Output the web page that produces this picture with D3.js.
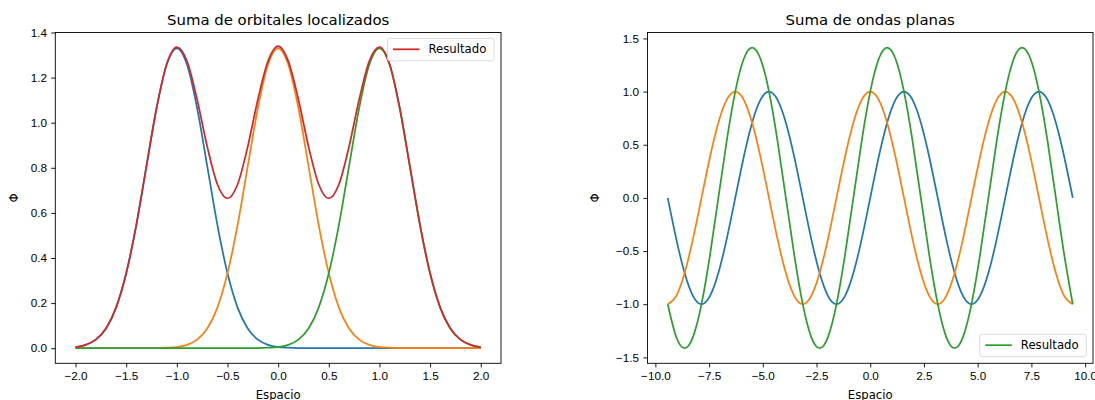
<!DOCTYPE html>
<html>
<head>
<meta charset="utf-8">
<script src="https://cdn.jsdelivr.net/npm/d3@7"></script>
<style>
  body { margin: 0; background: #fff; }
  svg { display: block; font-family: "DejaVu Sans", sans-serif; }
  .tick text { font-size: 11.7px; fill: #000; }
</style>
</head>
<body>
<svg id="chart" width="1095" height="400"></svg>
<script>
// Left panel: localized orbitals (sampled every 0.1)
const xLoc = [-2.0, -1.9, -1.8, -1.7, -1.6, -1.5, -1.4, -1.3, -1.2, -1.1, -1.0, -0.9, -0.8, -0.7, -0.6,
  -0.5, -0.4, -0.3, -0.2, -0.1, 0.0, 0.1, 0.2, 0.3, 0.4, 0.5, 0.6, 0.7, 0.8, 0.9, 1.0, 1.1, 1.2, 1.3,
  1.4, 1.5, 1.6, 1.7, 1.8, 1.9, 2.0];
const orbA = [0.005, 0.015, 0.038, 0.087, 0.180, 0.332, 0.547, 0.807, 1.065, 1.258, 1.330, 1.258, 1.065,
  0.807, 0.547, 0.332, 0.180, 0.087, 0.038, 0.015, 0.005, 0.002, 0.0004, 0, 0, 0, 0, 0, 0, 0, 0, 0, 0,
  0, 0, 0, 0, 0, 0, 0, 0];
const orbB = [0, 0, 0, 0, 0, 0, 0, 0.0001, 0.0004, 0.002, 0.005, 0.015, 0.038, 0.087, 0.180, 0.332, 0.547,
  0.807, 1.065, 1.258, 1.330, 1.258, 1.065, 0.807, 0.547, 0.332, 0.180, 0.087, 0.038, 0.015, 0.005,
  0.002, 0.0004, 0.0001, 0, 0, 0, 0, 0, 0, 0];
const orbC = [0, 0, 0, 0, 0, 0, 0, 0, 0, 0, 0, 0, 0, 0, 0, 0, 0, 0, 0.0004, 0.002, 0.005, 0.015, 0.038,
  0.087, 0.180, 0.332, 0.547, 0.807, 1.065, 1.258, 1.330, 1.258, 1.065, 0.807, 0.547, 0.332, 0.180,
  0.087, 0.038, 0.015, 0.005];
const orbSum = [0.005, 0.015, 0.038, 0.087, 0.180, 0.332, 0.547, 0.807, 1.065, 1.260, 1.335, 1.273, 1.103,
  0.894, 0.727, 0.664, 0.727, 0.894, 1.103, 1.273, 1.340, 1.273, 1.103, 0.894, 0.727, 0.664, 0.727,
  0.894, 1.103, 1.273, 1.335, 1.260, 1.065, 0.807, 0.547, 0.332, 0.180, 0.087, 0.038, 0.015, 0.005];
const locXTicks = [-2.0, -1.5, -1.0, -0.5, 0.0, 0.5, 1.0, 1.5, 2.0];
const locYTicks = [0.0, 0.2, 0.4, 0.6, 0.8, 1.0, 1.2, 1.4];

// Right panel: plane waves (sampled every pi/8 from -3pi to 3pi)
const xWave = [-9.425, -9.032, -8.639, -8.247, -7.854, -7.461, -7.069, -6.676, -6.283, -5.890, -5.498,
  -5.105, -4.712, -4.320, -3.927, -3.534, -3.142, -2.749, -2.356, -1.963, -1.571, -1.178, -0.785,
  -0.393, 0, 0.393, 0.785, 1.178, 1.571, 1.963, 2.356, 2.749, 3.142, 3.534, 3.927, 4.320, 4.712,
  5.105, 5.498, 5.890, 6.283, 6.676, 7.069, 7.461, 7.854, 8.247, 8.639, 9.032, 9.425];
const waveSin = [0, -0.383, -0.707, -0.924, -1, -0.924, -0.707, -0.383, 0, 0.383, 0.707, 0.924, 1, 0.924, 0.707, 0.383,
  0, -0.383, -0.707, -0.924, -1, -0.924, -0.707, -0.383, 0, 0.383, 0.707, 0.924, 1, 0.924, 0.707, 0.383,
  0, -0.383, -0.707, -0.924, -1, -0.924, -0.707, -0.383, 0, 0.383, 0.707, 0.924, 1, 0.924, 0.707, 0.383, 0];
const waveCos = [-1, -0.924, -0.707, -0.383, 0, 0.383, 0.707, 0.924, 1, 0.924, 0.707, 0.383, 0, -0.383, -0.707, -0.924,
  -1, -0.924, -0.707, -0.383, 0, 0.383, 0.707, 0.924, 1, 0.924, 0.707, 0.383, 0, -0.383, -0.707, -0.924,
  -1, -0.924, -0.707, -0.383, 0, 0.383, 0.707, 0.924, 1, 0.924, 0.707, 0.383, 0, -0.383, -0.707, -0.924, -1];
const waveSum = [-1, -1.307, -1.414, -1.307, -1, -0.541, 0, 0.541, 1, 1.307, 1.414, 1.307, 1, 0.541, 0, -0.541,
  -1, -1.307, -1.414, -1.307, -1, -0.541, 0, 0.541, 1, 1.307, 1.414, 1.307, 1, 0.541, 0, -0.541,
  -1, -1.307, -1.414, -1.307, -1, -0.541, 0, 0.541, 1, 1.307, 1.414, 1.307, 1, 0.541, 0, -0.541, -1];
const waveXTicks = [-10.0, -7.5, -5.0, -2.5, 0.0, 2.5, 5.0, 7.5, 10.0];
const waveYTicks = [-1.5, -1.0, -0.5, 0.0, 0.5, 1.0, 1.5];

const colors = ["#1f77b4", "#ff7f0e", "#2ca02c", "#d62728"];
const fmt = v => d3.format(".1f")(v).replace("-", "\u2212");

const svg = d3.select("#chart");
const plotTop = 32.5, plotBottom = 363.3;

function drawPanel(opt) {
  const x = d3.scaleLinear().domain(opt.xDomain).range([opt.left, opt.right]);
  const y = d3.scaleLinear().domain(opt.yDomain).range([plotBottom, plotTop]);
  const g = svg.append("g");

  const clipId = "clip" + Math.round(opt.left);
  g.append("clipPath").attr("id", clipId)
    .append("rect").attr("x", opt.left).attr("y", plotTop)
    .attr("width", opt.right - opt.left).attr("height", plotBottom - plotTop);

  const line = d3.line().x(d => x(d[0])).y(d => y(d[1])).curve(opt.curve);
  const plot = g.append("g").attr("clip-path", `url(#${clipId})`);
  opt.series.forEach(s => {
    plot.append("path")
      .datum(opt.xs.map((v, i) => [v, s.values[i]]))
      .attr("fill", "none")
      .attr("stroke", s.color)
      .attr("stroke-width", 1.75)
      .attr("stroke-linejoin", "round")
      .attr("d", line);
  });

  g.append("g")
    .attr("transform", `translate(0,${plotBottom})`)
    .call(d3.axisBottom(x).tickValues(opt.xTicks).tickFormat(fmt).tickSizeOuter(0).tickSize(4.1).tickPadding(4.5))
    .call(a => a.select(".domain").remove())
    .call(a => a.selectAll(".tick line").attr("stroke-width", 0.9));

  g.append("g")
    .attr("transform", `translate(${opt.left},0)`)
    .call(d3.axisLeft(y).tickValues(opt.yTicks).tickFormat(fmt).tickSizeOuter(0).tickSize(4.1).tickPadding(4.3))
    .call(a => a.select(".domain").remove())
    .call(a => a.selectAll(".tick line").attr("stroke-width", 0.9));

  g.append("rect")
    .attr("x", opt.left).attr("y", plotTop)
    .attr("width", opt.right - opt.left).attr("height", plotBottom - plotTop)
    .attr("fill", "none").attr("stroke", "#000").attr("stroke-width", 0.9);

  g.append("text")
    .attr("x", (opt.left + opt.right) / 2).attr("y", 25)
    .attr("text-anchor", "middle").attr("font-size", "14.9px")
    .text(opt.title);

  g.append("text")
    .attr("x", (opt.left + opt.right) / 2).attr("y", 398.5)
    .attr("text-anchor", "middle").attr("font-size", "11.7px")
    .text("Espacio");

  g.append("text")
    .attr("transform", `translate(${opt.ylabelX},${(plotTop + plotBottom) / 2}) rotate(-90)`)
    .attr("text-anchor", "middle").attr("dy", "0.35em").attr("font-size", "11.7px")
    .text("\u03A6");

  // Legend
  const lg = g.append("g").attr("transform", `translate(${opt.legend[0]},${opt.legend[1]})`);
  lg.append("rect")
    .attr("width", 106.5).attr("height", 22.5).attr("rx", 2.5)
    .attr("fill", "#fff").attr("fill-opacity", 0.8)
    .attr("stroke", "#d6d6d6").attr("stroke-width", 0.9);
  lg.append("line")
    .attr("x1", 5.5).attr("x2", 32).attr("y1", 11).attr("y2", 11)
    .attr("stroke", opt.legendColor).attr("stroke-width", 1.75);
  lg.append("text")
    .attr("x", 41).attr("y", 15.2).attr("font-size", "11.7px")
    .text("Resultado");
}

drawPanel({
  left: 55.3, right: 501, xDomain: [-2.2, 2.2], yDomain: [-0.067, 1.4],
  xs: xLoc, curve: d3.curveMonotoneX,
  series: [
    { values: orbA, color: colors[0] },
    { values: orbB, color: colors[1] },
    { values: orbC, color: colors[2] },
    { values: orbSum, color: colors[3] }
  ],
  xTicks: locXTicks, yTicks: locYTicks,
  title: "Suma de orbitales localizados",
  ylabelX: 13.5,
  legend: [387.5, 38.3], legendColor: colors[3]
});

drawPanel({
  left: 647.5, right: 1093, xDomain: [-10.367, 10.367], yDomain: [-1.556, 1.556],
  xs: xWave, curve: d3.curveNatural,
  series: [
    { values: waveSin, color: colors[0] },
    { values: waveCos, color: colors[1] },
    { values: waveSum, color: colors[2] }
  ],
  xTicks: waveXTicks, yTicks: waveYTicks,
  title: "Suma de ondas planas",
  ylabelX: 595,
  legend: [979.8, 334.2], legendColor: colors[2]
});
</script>
</body>
</html>
